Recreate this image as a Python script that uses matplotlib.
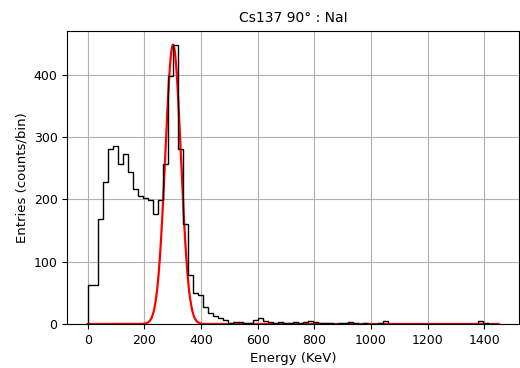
import numpy as np
import matplotlib
matplotlib.use("Agg")
import matplotlib.pyplot as plt

# Histograma (contagens por bin)
e_min, e_max, n_bins = 0, 1450, 82
counts = [62, 62, 169, 227, 280, 285, 257, 273, 243, 216,
          205, 202, 199, 176, 199, 256, 397, 448, 281, 161,
          78, 50, 46, 27, 17, 13, 9, 6, 1, 4,
          4, 2, 1, 7, 9, 5, 4, 2, 3, 2,
          2, 3, 2, 3, 5, 3, 1, 2, 1, 0,
          1, 1, 3, 1, 0, 1, 0, 0, 1, 5,
          0, 0, 0, 0, 0, 0, 0, 0, 0, 0,
          0, 0, 0, 0, 0, 0, 0, 0, 5, 1,
          0, 0]

# Parâmetros do ajuste gaussiano do fotopico
amp, mu, sigma = 448, 301, 27.5

edges = np.linspace(e_min, e_max, n_bins + 1)
centers = 0.5 * (edges[:-1] + edges[1:])
x = np.linspace(e_min, e_max, 2000)
fit = amp * np.exp(-0.5 * ((x - mu) / sigma) ** 2)

fig = plt.figure(figsize=(5.2, 3.68), dpi=100)
ax = fig.add_axes([67.3 / 520, 44 / 368, (519 - 67.3) / 520, (324 - 30.7) / 368])

ax.plot(x, fit, color="red", lw=1.6)
ax.hist(centers, bins=edges, weights=counts, histtype="step", color="black", lw=1)

ax.set_title("Cs137 90° : NaI", fontsize=10)
ax.set_xlabel("Energy (KeV)", fontsize=9.5)
ax.set_ylabel("Entries (counts/bin)", fontsize=9.5)
ax.tick_params(labelsize=9)
ax.set_xticks(np.arange(0, 1401, 200))
ax.grid(True)
ax.set_axisbelow(True)

fig.savefig("out.png", dpi=100)
